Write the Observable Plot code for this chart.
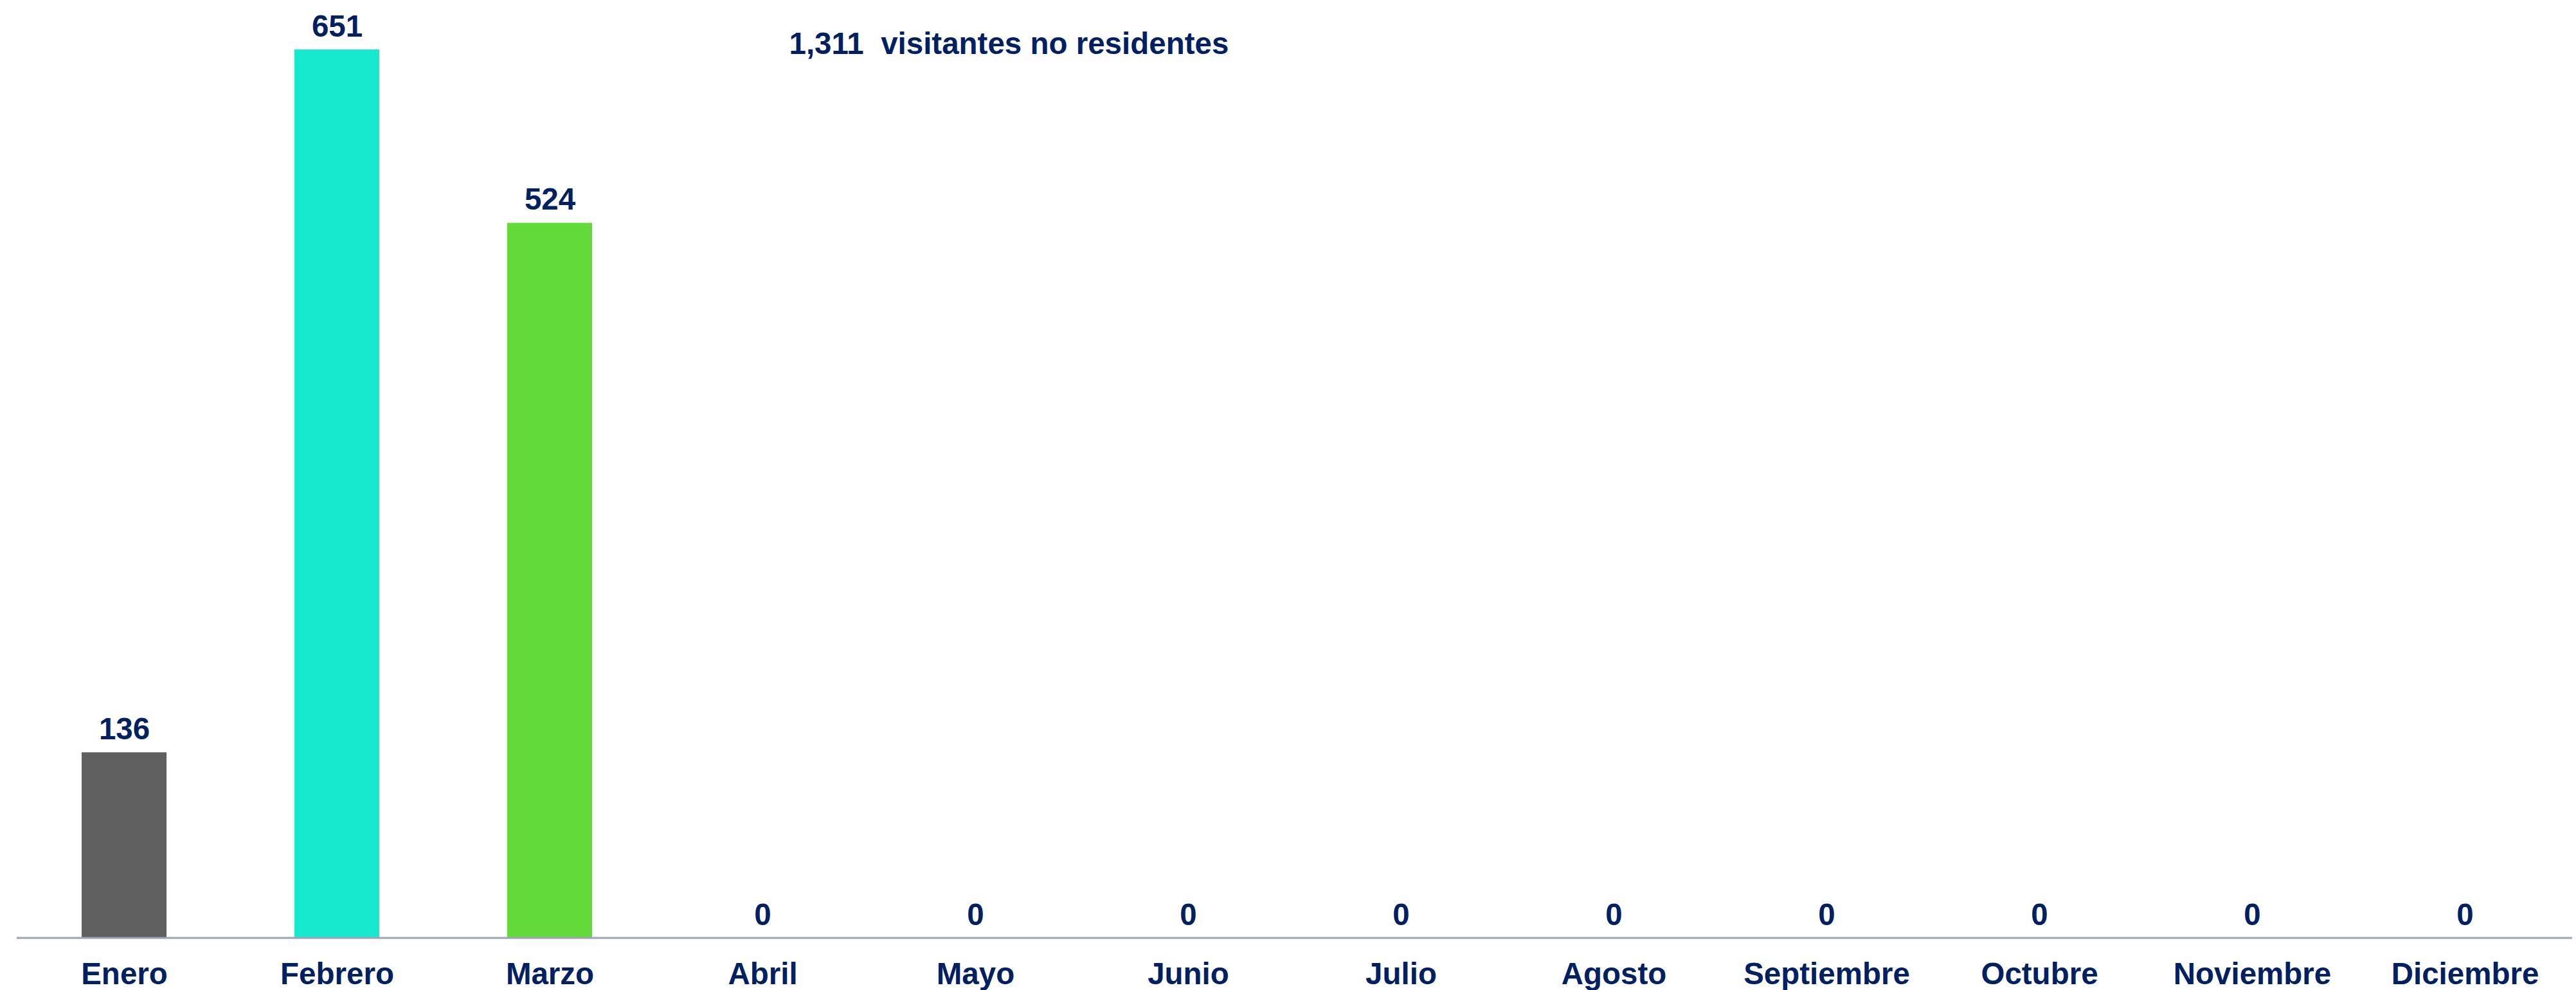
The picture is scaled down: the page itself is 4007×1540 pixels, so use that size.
<!DOCTYPE html>
<html>
<head>
<meta charset="utf-8">
<script src="https://cdn.jsdelivr.net/npm/d3@7"></script>
<script src="https://cdn.jsdelivr.net/npm/@observablehq/plot@0.6"></script>
<style>
  html, body { margin: 0; padding: 0; background: #ffffff; }
  #chart svg { display: block; }
</style>
</head>
<body>
<div id="chart"></div>
<script>
const months = ["Enero", "Febrero", "Marzo", "Abril", "Mayo", "Junio", "Julio", "Agosto", "Septiembre", "Octubre", "Noviembre", "Diciembre"];
const visitors = [136, 651, 524, 0, 0, 0, 0, 0, 0, 0, 0, 0];
const barColors = ["#5F5F5F", "#17E9CF", "#62DA37", "#5F5F5F", "#5F5F5F", "#5F5F5F", "#5F5F5F", "#5F5F5F", "#5F5F5F", "#5F5F5F", "#5F5F5F", "#5F5F5F"];
const titleText = "1,311  visitantes no residentes";

const data = months.map((m, i) => ({month: m, value: visitors[i], color: barColors[i]}));
const navy = "#002060";
const fontSize = 47.5;

const chart = Plot.plot({
  width: 4007,
  height: 1540,
  marginLeft: 26,
  marginRight: 6,
  marginTop: 77,
  marginBottom: 81,
  style: {fontFamily: "'Liberation Sans', Arial, sans-serif", background: "#ffffff"},
  x: {domain: months, paddingInner: 0.6, paddingOuter: 0.3, label: null},
  y: {domain: [0, 651], axis: null},
  marks: [
    Plot.barY(data, {x: "month", y: "value", fill: "color"}),
    Plot.ruleY([0], {stroke: "#9EA2B4", strokeWidth: 3, dy: -0.5}),
    Plot.text(data, {x: "month", y: "value", text: d => d3.format(",")(d.value), lineAnchor: "bottom", dy: -21, fill: navy, fontSize, fontWeight: "bold"}),
    Plot.axisX({tickSize: 0, tickPadding: 38, fontSize, fontWeight: "bold", color: navy, label: null}),
    Plot.text([titleText], {frameAnchor: "top-left", text: d => d, textAnchor: "start", lineAnchor: "bottom", dx: 1201, dy: 6, fill: navy, fontSize, fontWeight: "bold"})
  ]
});
document.getElementById("chart").appendChild(chart);
</script>
</body>
</html>
